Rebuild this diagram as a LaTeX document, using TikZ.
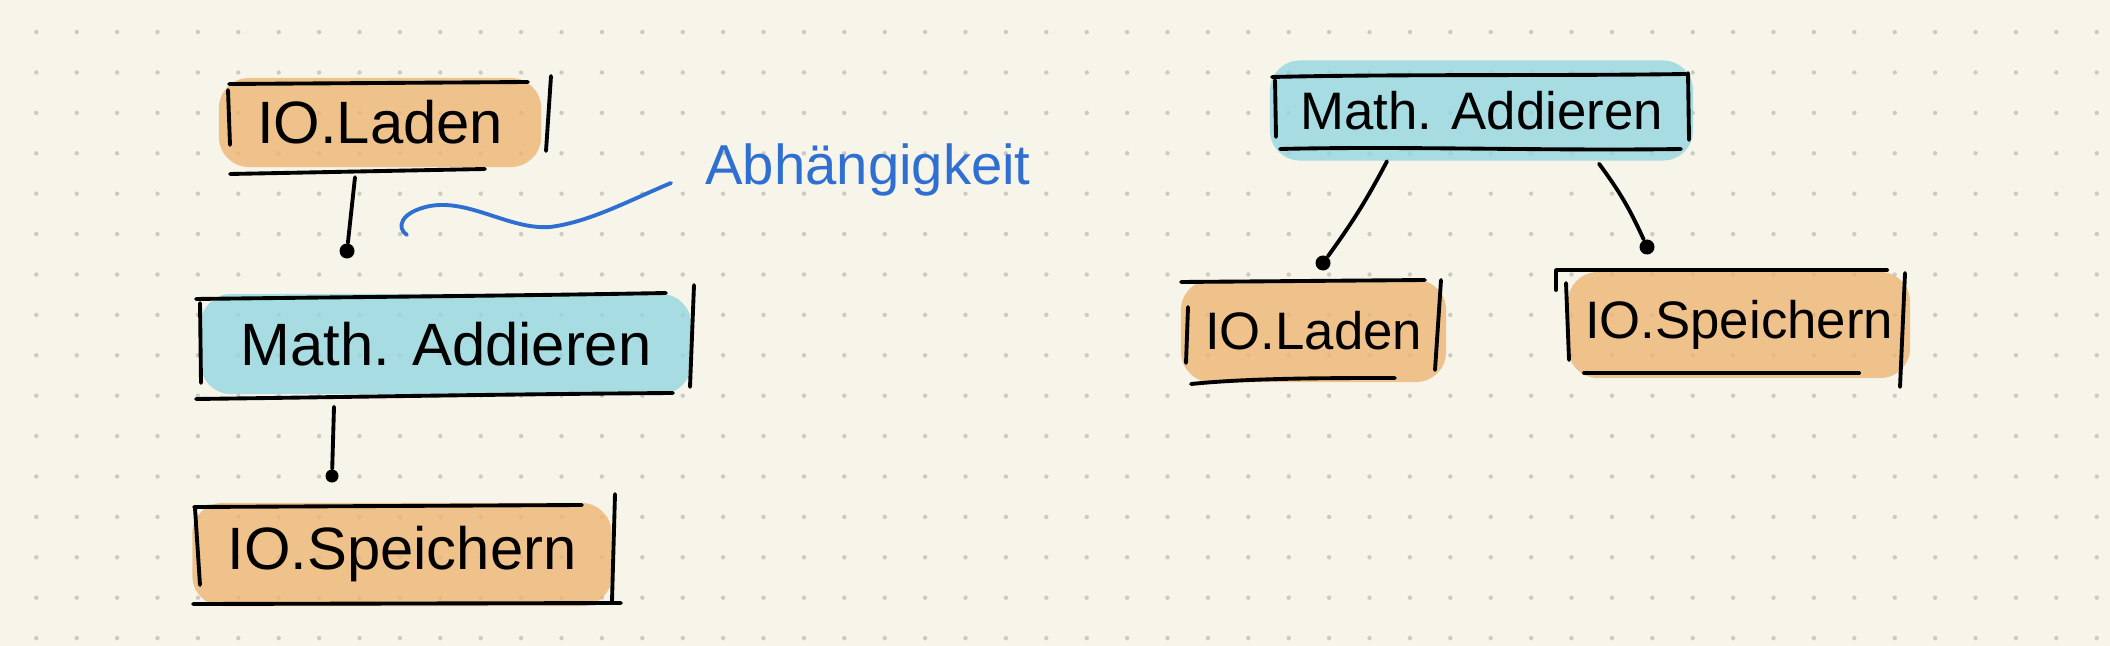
\documentclass[tikz,border=0pt]{standalone}
\usepackage{fontspec}
\setmainfont{Liberation Sans}
\usetikzlibrary{calc}
\definecolor{paper}{HTML}{F7F5EA}
\definecolor{gridc}{HTML}{CDCBC0}
\definecolor{orangef}{HTML}{EDB474}
\definecolor{bluef}{HTML}{94D6E1}
\definecolor{inkblue}{HTML}{2F6FD2}
\begin{document}
\begin{tikzpicture}[x=0.01cm,y=-0.01cm,
  box/.style={rounded corners=3mm, inner sep=0pt, text=black},
  obox/.style={box, fill=orangef, fill opacity=0.8, text opacity=1},
  bbox/.style={box, fill=bluef, fill opacity=0.8, text opacity=1},
  frame/.style={line width=1.1pt, line cap=round, line join=round},
  conn/.style={line width=1.1pt, line cap=round},
  tipdot/.style={circle, fill=black, inner sep=0pt, minimum size=1.5mm},
  big/.style={font=\fontsize{17}{20}\selectfont},
  small/.style={font=\fontsize{15}{18}\selectfont},
  note/.style={text=inkblue, font=\fontsize{16}{19}\selectfont},
  noteline/.style={draw=inkblue, line width=1.1pt, line cap=round}
]
\fill[paper] (0,0) rectangle (2110,646);
\useasboundingbox (0,0) rectangle (2110,646);
\foreach \i in {0,...,51}{\foreach \j in {0,...,15}{\fill[gridc] ({36.3+\i*40.4},{32.1+\j*40.4}) circle (0.22mm);}}

% ---- left column ----
\node[obox, big, minimum width=3.22cm, minimum height=0.89cm] (la) at (380,122.5) {IO.Laden};
\draw[frame] (229,84) -- (528,82);
\draw[frame] (228,90) -- (230,145);
\draw[frame] (551,76) -- (546,151);
\draw[frame] (230,174) -- (485,169);

\node[bbox, big, minimum width=4.90cm, minimum height=1.00cm] (lm) at (446,344) {Math. Addieren};
\draw[frame] (196,299) .. controls (350,297) and (500,296) .. (666,293);
\draw[frame] (200,303) -- (201,383);
\draw[frame] (694,285) -- (690,387);
\draw[frame] (196,399) .. controls (350,397) and (520,394) .. (673,393);

\node[obox, big, minimum width=4.19cm, minimum height=1.03cm] (ls) at (402,554.5) {IO.Speichern};
\draw[frame] (194,507) -- (582,505);
\draw[frame] (195,508) -- (200,585);
\draw[frame] (615,494) -- (612,601);
\draw[frame] (193,604) -- (621,603);

\node[tipdot] (d1) at (347,251) {};
\draw[conn] ($(la.south)+(-25,9.5)$) -- (d1);
\node[tipdot, minimum size=1.3mm] (d2) at (332,476) {};
\draw[conn] ($(lm.south)+(-112,12)$) -- (d2);

% ---- annotation ----
\node[note, anchor=base] (abh) at (868,185) {Abhängigkeit};
\coordinate (nstart) at (407,235);
\coordinate (nend) at (671,183);
\draw[noteline] (nstart) .. controls (396,228) and (400,212) .. (430,206)
  .. controls (470,199) and (510,230) .. (550,227)
  .. controls (590,222) and (630,200) .. (nend);

% ---- right tree ----
\node[bbox, small, minimum width=4.23cm, minimum height=1.00cm] (rm) at (1481.5,110.5) {Math. Addieren};
\draw[frame] (1272,77) .. controls (1400,74) and (1550,76) .. (1686,74);
\draw[frame] (1275,80) -- (1276,137);
\draw[frame] (1688,73) -- (1689,140);
\draw[frame] (1280,149) .. controls (1400,146) and (1550,151) .. (1681,149);

\node[obox, small, minimum width=2.65cm, minimum height=1.02cm] (rl) at (1313.5,331) {IO.Laden};
\draw[frame] (1181,282) -- (1425,280);
\draw[frame] (1188,307) -- (1186,363);
\draw[frame] (1441,280) -- (1435,370);
\draw[frame] (1191,384) .. controls (1250,378) and (1330,378) .. (1395,378);

\node[obox, small, minimum width=3.42cm, minimum height=1.06cm] (rs) at (1739,325) {IO.Speichern};
\draw[frame] (1556,290) -- (1556,270) -- (1887,270);
\draw[frame] (1566,283) -- (1569,360);
\draw[frame] (1905,273) -- (1900,387);
\draw[frame] (1584,373) -- (1859,373);

\node[tipdot] (d3) at (1323,263) {};
\draw[conn] ($(rm.south)+(-94.5,0)$) to[bend left=4] (d3);
\node[tipdot] (d4) at (1647,247) {};
\draw[conn] ($(rm.south)+(117.5,2.5)$) to[bend left=6] (d4);
\end{tikzpicture}
\end{document}
